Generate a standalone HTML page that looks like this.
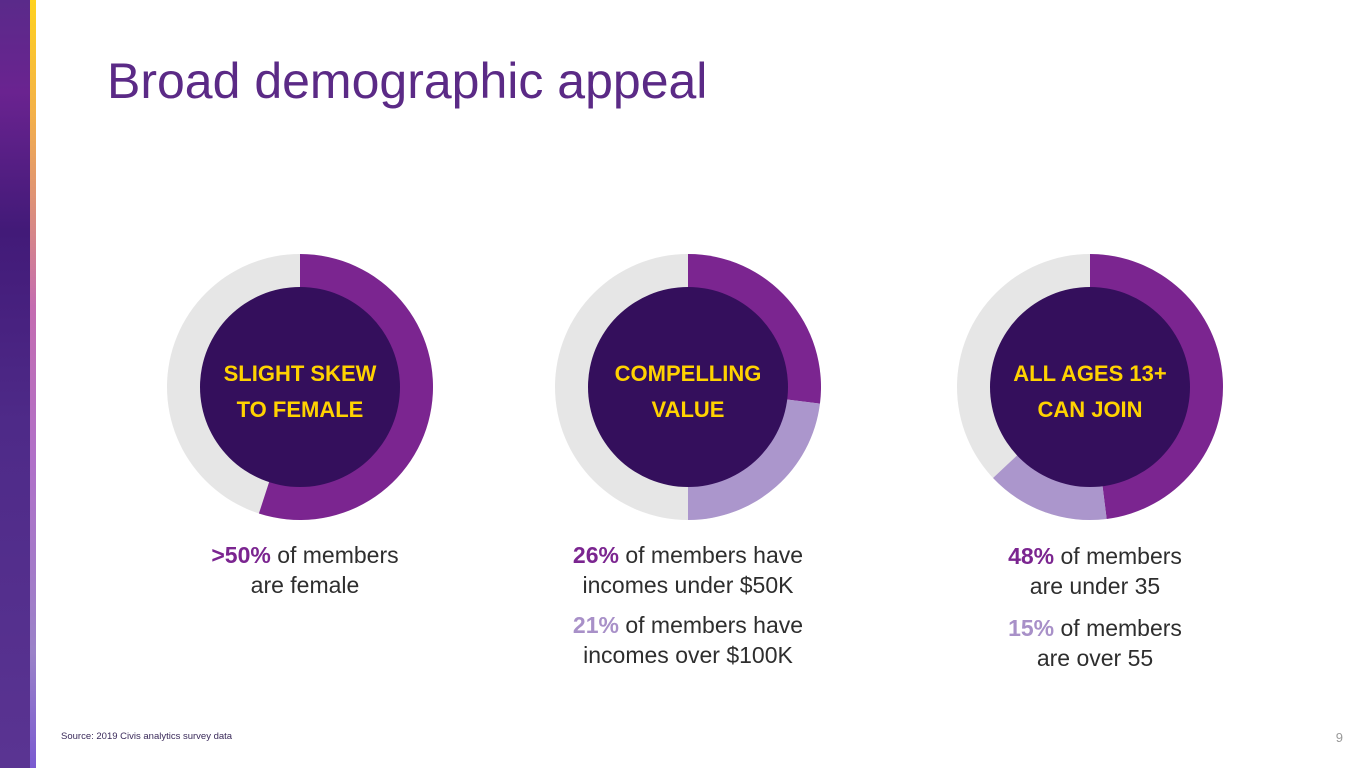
<!DOCTYPE html>
<html><head><meta charset="utf-8">
<style>
body{margin:0;width:1365px;height:768px;background:#fff;position:relative;overflow:hidden;font-family:"Liberation Sans",sans-serif}
.strip{position:absolute;left:0;top:0;width:30px;height:768px;background:linear-gradient(180deg,#5a2a8a 0%,#6a2390 12%,#421a78 30%,#4e2a88 55%,#5a3492 100%)}
.stripe{position:absolute;left:30px;top:0;width:6px;height:768px;background:linear-gradient(180deg,#ffd21f 0%,#f3b04a 15%,#c46cb0 40%,#b070c8 60%,#9a82c8 85%,#7a5ad0 100%)}
h1{position:absolute;left:107px;top:52px;margin:0;font-weight:normal;font-size:50px;color:#5b2a86;letter-spacing:0px}
.cap{position:absolute;text-align:center;font-size:23px;color:#2e2e2e;line-height:30px}
.p{color:#7b2590;font-weight:bold}.l{color:#a890c8;font-weight:bold}
.src{position:absolute;left:61px;top:731px;font-size:9.5px;color:#3a2a5a}
.pg{position:absolute;right:22px;top:730px;font-size:13px;color:#999}
</style></head><body>
<div class="strip"></div>
<div class="stripe"></div>
<h1>Broad demographic appeal</h1>
<svg id="ch" width="1365" height="768" style="position:absolute;left:0;top:0"></svg>
<div class="cap" style="left:165px;top:540px;width:280px"><span class="p">&gt;50%</span> of members<br>are female</div>
<div class="cap" style="left:548px;top:540px;width:280px"><span class="p">26%</span> of members have<br>incomes under $50K<div style="height:10px"></div><span class="l">21%</span> of members have<br>incomes over $100K</div>
<div class="cap" style="left:955px;top:541px;width:280px"><span class="p">48%</span> of members<br>are under 35<div style="height:12px"></div><span class="l">15%</span> of members<br>are over 55</div>
<div class="src">Source: 2019 Civis analytics survey data</div>
<div class="pg">9</div>
<script>
const donutLabels=[["SLIGHT SKEW","TO FEMALE"],["COMPELLING","VALUE"],["ALL AGES 13+","CAN JOIN"]];
const primaryValues=[55,27,48];
const secondaryValues=[0,23,15];
const centersX=[300,688,1090];
const NS="http://www.w3.org/2000/svg";
const svg=document.getElementById('ch');
const cy=387,R=133,RI=100;
function pt(c,f,r){const a=f*2*Math.PI;return [c+r*Math.sin(a),cy-r*Math.cos(a)];}
function arc(c,f0,f1,col,name){
  if(f1-f0<=0)return;
  const [x0,y0]=pt(c,f0,R),[x1,y1]=pt(c,f1,R);
  const p=document.createElementNS(NS,'path');
  p.setAttribute('d',`M${c},${cy}L${x0},${y0}A${R},${R} 0 ${f1-f0>0.5?1:0} 1 ${x1},${y1}Z`);
  p.setAttribute('fill',col);
  
  
  svg.appendChild(p);
}
donutLabels.forEach((lab,i)=>{
  const c=centersX[i];
  const bg=document.createElementNS(NS,'circle');
  bg.setAttribute('cx',c);bg.setAttribute('cy',cy);bg.setAttribute('r',R);bg.setAttribute('fill','#e6e6e6');
  
  
  svg.appendChild(bg);
  const a=primaryValues[i]/100,b=secondaryValues[i]/100;
  arc(c,0,a,'#7b2590','donut-primary-slice');
  arc(c,a,a+b,'#ab96cc','donut-secondary-slice');
  const h=document.createElementNS(NS,'circle');
  h.setAttribute('cx',c);h.setAttribute('cy',cy);h.setAttribute('r',RI);h.setAttribute('fill','#340f5c');
  
  
  svg.appendChild(h);
  lab.forEach((s,j)=>{
    const t=document.createElementNS(NS,'text');
    t.setAttribute('x',c);t.setAttribute('y',cy-6+j*36);t.setAttribute('text-anchor','middle');
    t.setAttribute('fill','#ffd200');t.setAttribute('font-size','22');t.setAttribute('font-weight','bold');
    t.setAttribute('font-family','Liberation Sans, sans-serif');
    t.textContent=s;
    
    
    svg.appendChild(t);
  });
});
</script>
</body></html>
